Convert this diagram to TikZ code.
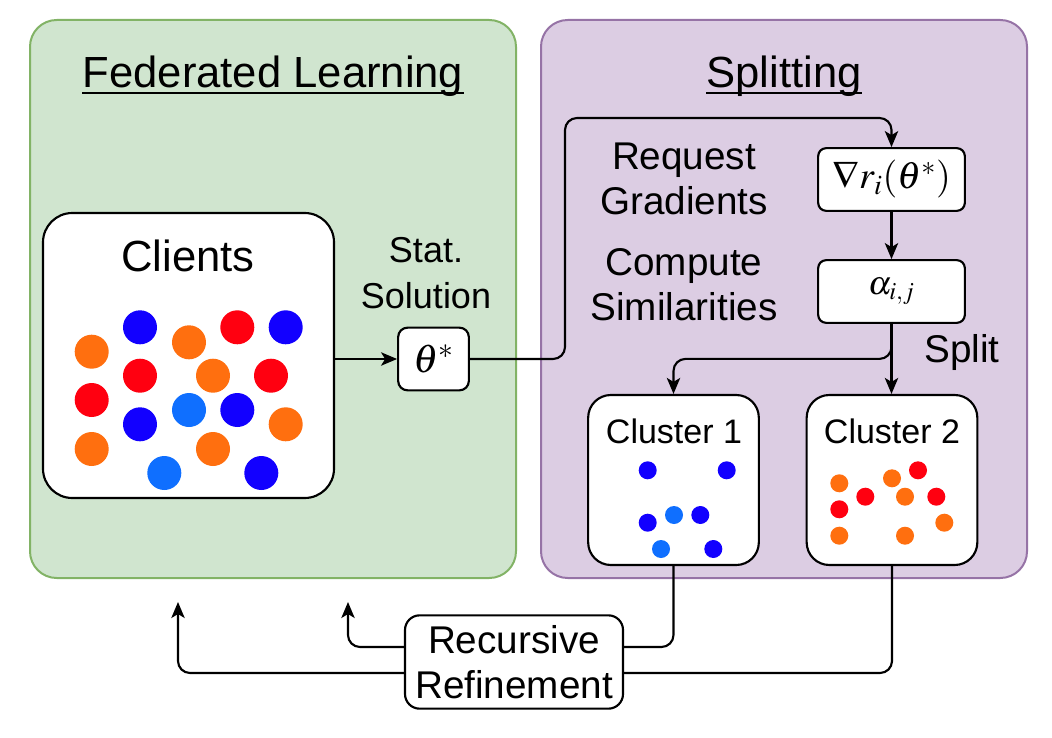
\documentclass[tikz,border=0pt]{standalone}
\usepackage{mathptmx}
\usepackage{fontspec}
\setmainfont{Liberation Sans}
\usetikzlibrary{arrows.meta}
\definecolor{flfill}{HTML}{D0E5CF}
\definecolor{fldraw}{HTML}{82B366}
\definecolor{spfill}{HTML}{DCCDE3}
\definecolor{spdraw}{HTML}{9673A6}
\definecolor{dorange}{HTML}{FF6F0F}
\definecolor{dred}{HTML}{FF0010}
\definecolor{dblue}{HTML}{1200FF}
\definecolor{dlblue}{HTML}{0F6FFF}
\begin{document}
\begin{tikzpicture}[x=0.75pt,y=-0.75pt,
  panel/.style={draw=#1, line width=1.5pt, rounded corners=20pt, minimum width=364.5pt, minimum height=418.5pt, inner sep=0pt},
  wbox/.style={draw=black, fill=white, line width=1.6pt, inner sep=0pt, align=center},
  arr/.style={-{Stealth[length=12pt,width=10pt,inset=3pt]}, line width=1.6pt, rounded corners=9pt},
  conn/.style={line width=1.6pt, rounded corners=9pt},
  uline/.style={line width=1.4pt},
  bigdot/.style={circle, fill=#1, draw=none, inner sep=0pt, minimum size=25.5pt},
  smalldot/.style={circle, fill=#1, draw=none, inner sep=0pt, minimum size=13.5pt},
  titletext/.style={font=\fontsize{32.7}{38}\selectfont, inner sep=0pt, anchor=base},
  lbl/.style={font=\fontsize{29}{34}\selectfont, align=center, inner sep=0pt}
]
\useasboundingbox (0,0) rectangle (1052,738);
% panels
\node[panel=fldraw, fill=flfill] (fl) at (273,299) {};
\node[panel=spdraw, fill=spfill] (sp) at (784,299) {};
\node[titletext] (flt) at (273,88) {Federated Learning};
\node[titletext] (spt) at (784,88) {Splitting};
\draw[uline] ([yshift=-3.5pt]flt.base west) -- ([yshift=-3.5pt]flt.base east);
\draw[uline] ([yshift=-3.5pt]spt.base west) -- ([yshift=-3.5pt]spt.base east);
% clients
\node[wbox, minimum width=218.25pt, minimum height=213.75pt, rounded corners=22pt] (clients) at (188.5,355.5) {};
\node[titletext] (clientst) at (188,271) {Clients};
\foreach \x/\y/\c [count=\i] in {91.7/351.7/dorange, 140/327.3/dblue, 189/342.3/dorange, 237.3/327.3/dred, 285.7/327.3/dblue,
  140/375.7/dred, 213/375.7/dorange, 271/375.7/dred, 91.7/400/dred, 140/424.3/dblue, 189/410/dlblue, 237.3/410/dblue,
  285.7/424.3/dorange, 91.7/449/dorange, 164.3/473/dlblue, 213/449/dorange, 261.3/473/dblue}
  \node[bigdot=\c] (cd\i) at (\x,\y) {};
% stat solution
\node[lbl, font=\fontsize{27}{34}\selectfont] (statlbl) at (426,273) {Stat.\\Solution};
\node[wbox, minimum width=53pt, minimum height=47pt, rounded corners=7pt, font=\fontsize{30}{32}\selectfont] (theta) at (433.5,359) {$\theta^*$};
% splitting side
\node[lbl] (reqlbl) at (684,179) {Request\\Gradients};
\node[lbl] (complbl) at (684,285) {Compute\\Similarities};
\node[wbox, minimum width=110pt, minimum height=47pt, rounded corners=6pt, font=\fontsize{28.5}{30}\selectfont] (grad) at (891.5,179.5) {$\nabla r_i(\theta^*)$};
\node[wbox, minimum width=110pt, minimum height=47pt, rounded corners=6pt, font=\fontsize{25}{30}\selectfont] (alpha) at (891.5,291.5) {$\alpha_{i,j}$};
\node[lbl] (splitlbl) at (962,353) {Split};
% clusters
\node[wbox, minimum width=128pt, minimum height=127.5pt, rounded corners=17pt] (c1) at (673.5,480) {};
\node[wbox, minimum width=128pt, minimum height=127.5pt, rounded corners=17pt] (c2) at (892,480) {};
\node[titletext, font=\fontsize{25.5}{30}\selectfont] (c1t) at (674,443) {Cluster 1};
\node[titletext, font=\fontsize{25.5}{30}\selectfont] (c2t) at (892,443) {Cluster 2};
\foreach \x/\y/\c [count=\i] in {647.7/470.3/dblue, 726.7/470.3/dblue, 647.7/522.7/dblue, 674/515/dlblue, 700.3/515/dblue, 661/549/dlblue, 713.3/549/dblue}
  \node[smalldot=\c] (k1d\i) at (\x,\y) {};
\foreach \x/\y/\c [count=\i] in {839.3/483.3/dorange, 839.3/509.3/dred, 839.3/535.7/dorange, 865.3/496.7/dred, 892/478.3/dorange,
  918/470.3/dred, 905/496.7/dorange, 936.3/496.7/dred, 944.3/522.7/dorange, 905/535.7/dorange}
  \node[smalldot=\c] (k2d\i) at (\x,\y) {};
% recursive refinement
\node[wbox, minimum width=163.5pt, minimum height=70pt, rounded corners=11pt, font=\fontsize{29}{34}\selectfont] (rr) at (514,662) {Recursive\\Refinement};
% connectors
\draw[arr] (clients.east |- theta.west) -- (theta.west);
\draw[arr] (theta.east) -| (565,118) -| (grad.north);
\draw[arr] (grad.south) -- (alpha.north);
\draw[arr] (alpha.south) -- (alpha.south |- c2.north);
\draw[arr] (alpha.south) -- ++(0,35) -| (c1.north);
\coordinate (ya) at (0,647);
\coordinate (yb) at (0,673);
\coordinate (tipa) at (348,602);
\coordinate (tipb) at (178,602);
\draw[conn] (c1.south) |- (rr.east |- ya);
\draw[conn] (c2.south) |- (rr.east |- yb);
\draw[arr] (rr.west |- ya) -| (tipa);
\draw[arr] (rr.west |- yb) -| (tipb);
\end{tikzpicture}
\end{document}
